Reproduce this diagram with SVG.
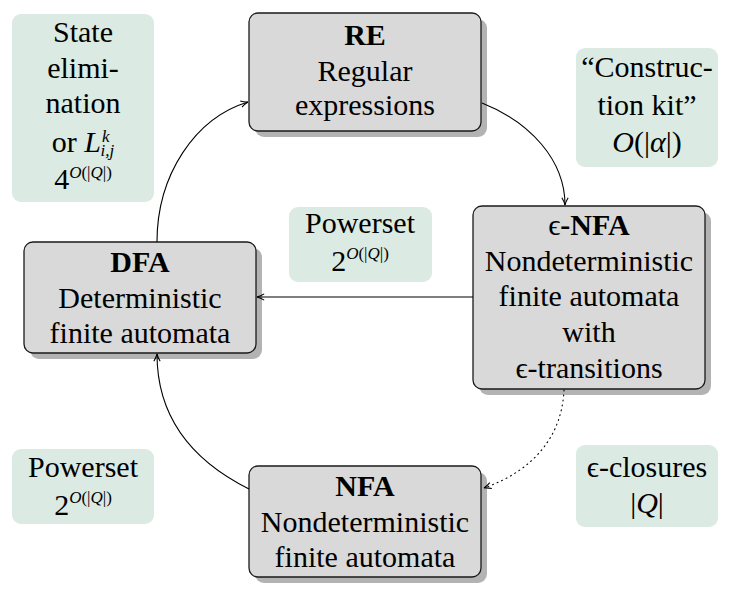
<svg xmlns="http://www.w3.org/2000/svg" width="734" height="596" viewBox="0 0 734 596">
<defs>
<marker id="ah" viewBox="0 0 10 10" refX="9" refY="5" markerWidth="9" markerHeight="9" markerUnits="userSpaceOnUse" orient="auto">
<path d="M1,1.5 Q5,4 9,5 Q5,6 1,8.5" fill="none" stroke="#000" stroke-width="1.2"/>
</marker>
<style>
.node rect.box{fill:#d9d9d9;stroke:#1a1a1a;stroke-width:1.3}
.node rect.sh{fill:#b3b3b3}
.note rect{fill:#dbeae2}
text, tspan{font-family:"Liberation Serif", "Times New Roman", "DejaVu Serif", serif}
text{font-size:30px;fill:#000;text-anchor:middle}
.b{font-weight:bold}
.i{font-style:italic}
.sup{font-size:17px}
.edge{fill:none;stroke:#000;stroke-width:1.1}
</style>
</defs>
<rect width="734" height="596" fill="#fff"/>

<g id="note-state-elim" class="note">
<rect x="12" y="14" width="142" height="188" rx="9"/>
<text x="83" y="42">State</text>
<text x="83" y="78">elimi-</text>
<text x="83" y="113">nation</text>
<text x="83" y="152">or <tspan class="i">L</tspan><tspan class="sup i" dy="-10" dx="1">k</tspan><tspan class="sup i" dy="14" dx="-9">i,j</tspan></text>
<text x="83" y="189">4<tspan class="sup i" dy="-11">O</tspan><tspan class="sup">(|</tspan><tspan class="sup i">Q</tspan><tspan class="sup">|)</tspan></text>
</g>

<g id="note-construction" class="note">
<rect x="576" y="48" width="142" height="119" rx="9"/>
<text x="647" y="77">“Construc-</text>
<text x="647" y="115">tion kit”</text>
<text x="647" y="152"><tspan class="i">O</tspan>(|<tspan class="i">α</tspan>|)</text>
</g>

<g id="note-powerset-mid" class="note">
<rect x="289" y="207" width="143" height="75" rx="9"/>
<text x="360" y="233">Powerset</text>
<text x="360" y="271">2<tspan class="sup i" dy="-12">O</tspan><tspan class="sup">(|</tspan><tspan class="sup i">Q</tspan><tspan class="sup">|)</tspan></text>
</g>

<g id="note-powerset-bottom" class="note">
<rect x="12" y="449" width="142" height="75" rx="9"/>
<text x="83" y="477">Powerset</text>
<text x="83" y="515">2<tspan class="sup i" dy="-12">O</tspan><tspan class="sup">(|</tspan><tspan class="sup i">Q</tspan><tspan class="sup">|)</tspan></text>
</g>

<g id="note-closures" class="note">
<rect x="576" y="445" width="142" height="82" rx="9"/>
<text x="647" y="477">ϵ-closures</text>
<text x="647" y="513">|<tspan class="i">Q</tspan>|</text>
</g>

<g id="node-re" class="node">
<rect class="sh" x="255" y="19" width="232" height="118" rx="9"/>
<rect class="box" x="249" y="13" width="232" height="118" rx="9"/>
<text x="365" y="45" class="b">RE</text>
<text x="365" y="81">Regular</text>
<text x="365" y="115">expressions</text>
</g>

<g id="node-enfa" class="node">
<rect class="sh" x="479" y="212" width="232" height="183" rx="9"/>
<rect class="box" x="473" y="206" width="232" height="183" rx="9"/>
<text x="589" y="235">ϵ<tspan class="b">-NFA</tspan></text>
<text x="589" y="271">Nondeterministic</text>
<text x="589" y="306">finite automata</text>
<text x="589" y="342">with</text>
<text x="589" y="378">ϵ-transitions</text>
</g>

<g id="node-dfa" class="node">
<rect class="sh" x="30" y="248" width="232" height="111" rx="9"/>
<rect class="box" x="24" y="242" width="232" height="111" rx="9"/>
<text x="140" y="272" class="b">DFA</text>
<text x="140" y="308">Deterministic</text>
<text x="140" y="343">finite automata</text>
</g>

<g id="node-nfa" class="node">
<rect class="sh" x="255" y="472" width="232" height="111" rx="9"/>
<rect class="box" x="249" y="466" width="232" height="111" rx="9"/>
<text x="365" y="496" class="b">NFA</text>
<text x="365" y="532">Nondeterministic</text>
<text x="365" y="567">finite automata</text>
</g>

<g id="connectors">
<path class="edge" d="M157,242 C157,175 195,118 248,102" marker-end="url(#ah)"/>
<path class="edge" d="M482,103 C530,122 565,160 565,205" marker-end="url(#ah)"/>
<path class="edge" d="M473,297 L257,297" marker-end="url(#ah)"/>
<path class="edge" d="M249,489 C195,462 157,420 157,354" marker-end="url(#ah)"/>
<path class="edge" d="M564,390 C562,435 535,470 484,488" stroke-dasharray="1,4" stroke-linecap="round" marker-end="url(#ah)"/>
</g>
</svg>
